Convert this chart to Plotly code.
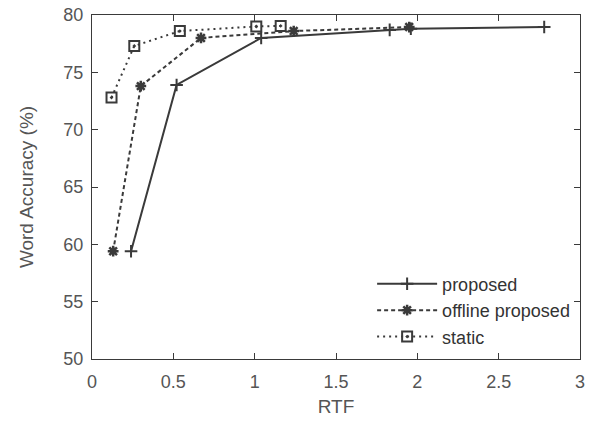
import plotly.graph_objects as go

prop_x = [0.24, 0.52, 1.04, 1.83, 1.96, 2.78]
prop_y = [59.4, 73.9, 78.0, 78.7, 78.8, 78.95]
off_x = [0.13, 0.30, 0.67, 1.24, 1.95]
off_y = [59.4, 73.8, 78.0, 78.6, 78.95]
stat_x = [0.12, 0.26, 0.54, 1.01, 1.16]
stat_y = [72.8, 77.3, 78.6, 79.0, 79.05]

col = "#3a3a3a"
txt = "#555555"
font = "Liberation Sans, Arial, sans-serif"

fig = go.Figure()
fig.add_trace(go.Scatter(x=prop_x, y=prop_y, name="proposed", mode="lines+markers",
                         line=dict(color=col, width=2, dash="solid"),
                         marker=dict(symbol="cross-thin-open", size=9, line=dict(color=col, width=2))))
fig.add_trace(go.Scatter(x=off_x, y=off_y, name="offline proposed", mode="lines+markers",
                         line=dict(color=col, width=2, dash="4px,3px"),
                         marker=dict(symbol="asterisk-open", size=9, line=dict(color=col, width=2.5))))
fig.add_trace(go.Scatter(x=stat_x, y=stat_y, name="static", mode="lines+markers",
                         line=dict(color=col, width=2, dash="2px,4px"),
                         marker=dict(symbol="square-open-dot", size=10, line=dict(color=col, width=2))))

axis_common = dict(showline=True, linecolor=col, linewidth=1.2, mirror="ticks",
                   ticks="inside", ticklen=6, tickcolor=col, showgrid=False, zeroline=False,
                   automargin=False,
                   tickfont=dict(family=font, size=18, color=txt))
fig.update_xaxes(range=[0, 3], tickvals=[0, 0.5, 1, 1.5, 2, 2.5, 3],
                 ticktext=["0", "0.5", "1", "1.5", "2", "2.5", "3"],
                 ticklabelstandoff=6,
                 title=dict(text="RTF", font=dict(family=font, size=19, color=txt), standoff=8),
                 **axis_common)
fig.update_yaxes(range=[50, 80], tickvals=[50, 55, 60, 65, 70, 75, 80],
                 ticklabelstandoff=4,
                 title=dict(text="Word Accuracy (%)", font=dict(family=font, size=19, color=txt), standoff=24),
                 **axis_common)
fig.update_layout(width=597, height=421, margin=dict(l=92, r=17, t=15, b=62),
                  plot_bgcolor="white", paper_bgcolor="white",
                  legend=dict(x=0.99, y=0.01, xanchor="right", yanchor="bottom",
                              bgcolor="rgba(0,0,0,0)", font=dict(family=font, size=18, color="#333"),
                              itemwidth=60, tracegroupgap=0))
fig.write_html("out.html")
